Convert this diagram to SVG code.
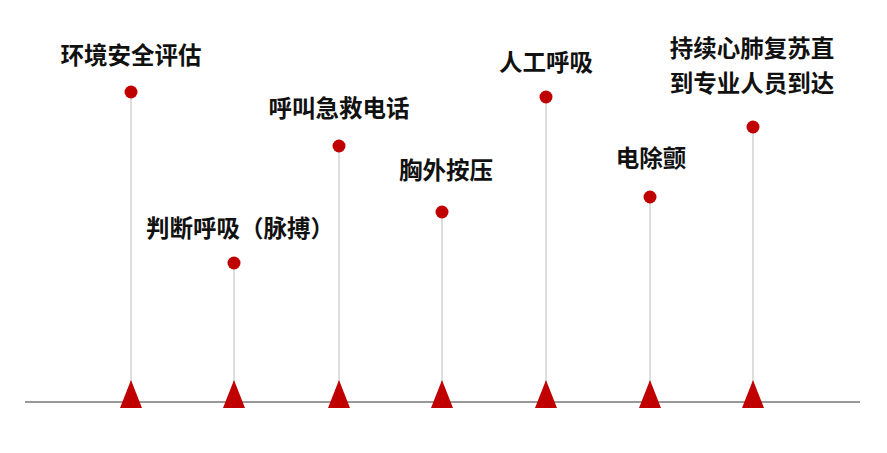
<svg xmlns="http://www.w3.org/2000/svg" width="887" height="453" viewBox="0 0 887 453">
<style>
.t{font-family:"Noto Sans CJK SC","Liberation Sans",sans-serif;font-size:23.5px;font-weight:bold;fill:#111;text-anchor:middle}
.s{stroke:#bbb;stroke-width:1}
.d{fill:#c00000}
.tri{fill:#c00000}
</style>
<rect width="887" height="453" fill="#fff"/>
<g id="connectors">
<line x1="25" y1="402" x2="860" y2="402" stroke="#999" stroke-width="2"/>
<line class="s" x1="131" y1="92" x2="131" y2="395"/>
<line class="s" x1="234" y1="263" x2="234" y2="395"/>
<line class="s" x1="339" y1="146" x2="339" y2="395"/>
<line class="s" x1="442" y1="212" x2="442" y2="395"/>
<line class="s" x1="546" y1="97" x2="546" y2="395"/>
<line class="s" x1="650" y1="197" x2="650" y2="395"/>
<line class="s" x1="753" y1="127" x2="753" y2="395"/>
</g>
<g id="n1"><circle class="d" cx="131" cy="92" r="6.5"/><polygon class="tri" points="131,380 120,408 142,408"/><text class="t" x="131" y="64">环境安全评估</text></g>
<g id="n2"><circle class="d" cx="234" cy="263" r="6.5"/><polygon class="tri" points="234,380 223,408 245,408"/><text class="t" x="240" y="237">判断呼吸（脉搏）</text></g>
<g id="n3"><circle class="d" cx="339" cy="146" r="6.5"/><polygon class="tri" points="339,380 328,408 350,408"/><text class="t" x="339" y="117">呼叫急救电话</text></g>
<g id="n4"><circle class="d" cx="442" cy="212" r="6.5"/><polygon class="tri" points="442,380 431,408 453,408"/><text class="t" x="446" y="179">胸外按压</text></g>
<g id="n5"><circle class="d" cx="546" cy="97" r="6.5"/><polygon class="tri" points="546,380 535,408 557,408"/><text class="t" x="546" y="71">人工呼吸</text></g>
<g id="n6"><circle class="d" cx="650" cy="197" r="6.5"/><polygon class="tri" points="650,380 639,408 661,408"/><text class="t" x="651" y="167">电除颤</text></g>
<g id="n7"><circle class="d" cx="753" cy="127" r="6.5"/><polygon class="tri" points="753,380 742,408 764,408"/><text class="t" x="752" y="57">持续心肺复苏直</text><text class="t" x="752" y="92">到专业人员到达</text></g>
</svg>
